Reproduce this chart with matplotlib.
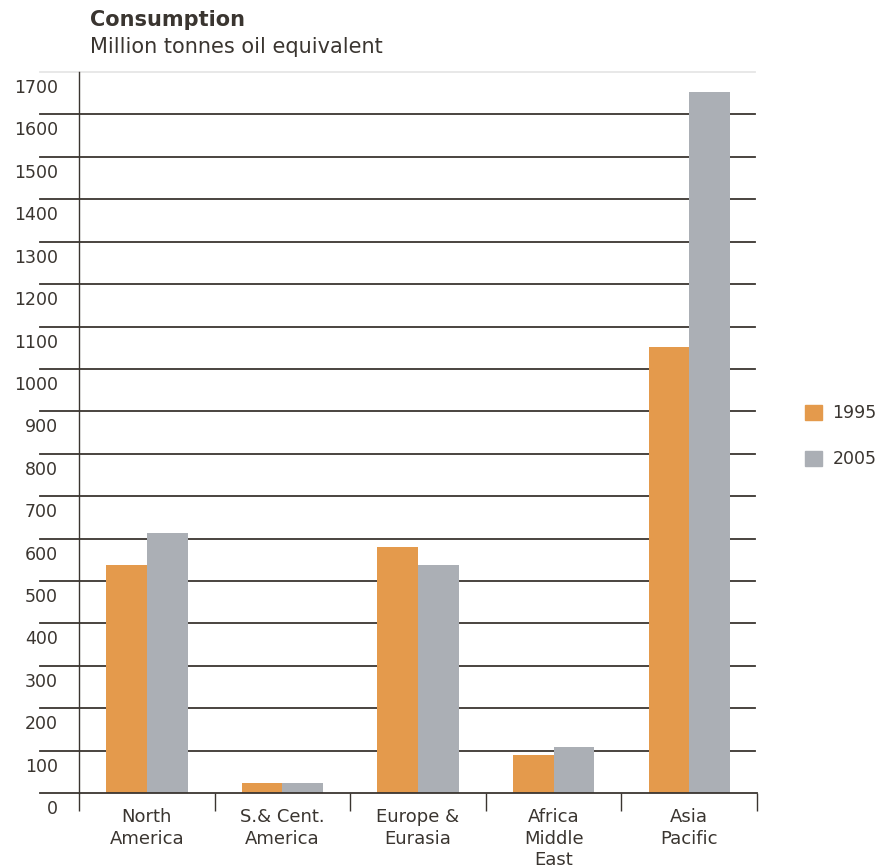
import numpy as np
import matplotlib.pyplot as plt
from matplotlib.patches import Patch
from matplotlib.transforms import blended_transform_factory, ScaledTranslation

regions = ['North\nAmerica', 'S.& Cent.\nAmerica', 'Europe &\nEurasia', 'Africa\nMiddle\nEast', 'Asia\nPacific']
cons_1995 = [538, 24, 580, 90, 1052]
cons_2005 = [613, 24, 538, 108, 1653]
yticks = np.arange(0, 1800, 100)

orange = '#E49A4C'
grey = '#ABAFB5'
ink = '#3a3530'

fig = plt.figure(figsize=(8.86, 8.68), dpi=100)
ax = fig.add_axes([0.0892, 0.0864, 0.7652, 0.8306])

index = np.arange(len(regions))
bw = 0.3
ax.bar(index - bw / 2, cons_1995, bw, color=orange, zorder=3, label='1995')
ax.bar(index + bw / 2, cons_2005, bw, color=grey, zorder=3, label='2005')

ax.set_xlim(-0.5, len(regions) - 0.5)
ax.set_ylim(0, 1700)

# horizontal rules, reaching left past the axis
for v in yticks[1:]:
    c = '#e6e6e6' if v == yticks[-1] else ink
    ax.axhline(v, xmin=-0.0575, xmax=0.997, color=c, lw=1.3, zorder=1, clip_on=False)
ax.axhline(0, xmin=-0.0575, xmax=1.0, color=ink, lw=1.3, zorder=4, clip_on=False)

for s in ['top', 'right', 'bottom']:
    ax.spines[s].set_visible(False)
ax.spines['left'].set_color(ink)
ax.spines['left'].set_linewidth(1.0)
ax.spines['left'].set_bounds(0, 1700)
ax.set_yticks([])

# category boundary ticks below the axis
ax.set_xticks(np.arange(-0.5, len(regions), 1.0))
ax.set_xticklabels([])
ax.tick_params(axis='x', length=13, width=1.0, color=ink, direction='out')

# y labels sit just below their rules
off = ScaledTranslation(0, -16 / 100, fig.dpi_scale_trans)
trans = blended_transform_factory(ax.transAxes, ax.transData) + off
for v in yticks:
    ax.text(-0.031, v, str(v), transform=trans, ha='right', va='center',
            fontsize=12.5, color=ink)

for i, r in enumerate(regions):
    ax.text(i, -36, r, ha='center', va='top', fontsize=13, color=ink,
            linespacing=1.25)

fig.text(0.1016, 0.977, 'Consumption', fontsize=15, fontweight='bold',
         color=ink, va='center')
fig.text(0.1016, 0.946, 'Million tonnes oil equivalent', fontsize=15,
         color=ink, va='center')

handles = [Patch(color=orange, label='1995'), Patch(color=grey, label='2005')]
fig.legend(handles=handles, loc='upper left', bbox_to_anchor=(0.8905, 0.552),
           frameon=False, handlelength=1.0, handleheight=1.0, labelspacing=1.6,
           handletextpad=0.6, fontsize=12.5, labelcolor=ink)

fig.savefig('out.png', dpi=100)
